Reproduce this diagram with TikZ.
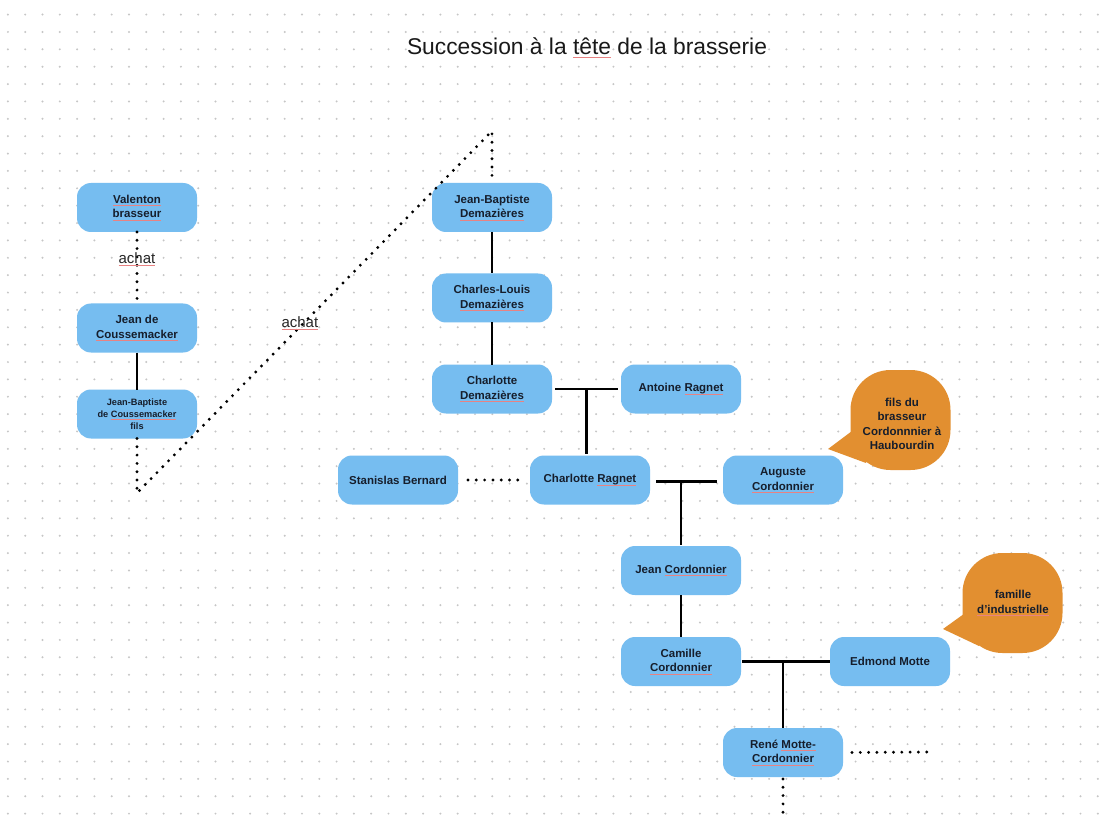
\documentclass[tikz,border=0pt]{standalone}
\usepackage{fontspec}
\setmainfont{Liberation Sans}
\usetikzlibrary{calc}
\definecolor{boxblue}{RGB}{118,189,240}
\definecolor{bubor}{RGB}{226,143,48}
\definecolor{ink}{RGB}{22,30,44}
\definecolor{gridgray}{RGB}{198,198,198}
\definecolor{spellred}{RGB}{232,130,130}
\newcommand\spl[1]{\setbox0\hbox{#1}\rlap{\textcolor{spellred}{\rule[-2.4pt]{\wd0}{0.5pt}}}\box0\relax}
\begin{document}
\begin{tikzpicture}[x=1pt,y=-1pt,
 pbox/.style={fill=boxblue, rounded corners=14pt, minimum width=120pt, minimum height=49pt, inner sep=2pt, outer sep=0pt, align=center, text=ink, font=\bfseries\fontsize{11.5}{14.5}\selectfont},
 smallbox/.style={pbox, font=\bfseries\fontsize{9.2}{12.2}\selectfont},
 link/.style={draw=black, line width=2.9pt},
 dotline/.style={draw=black, line width=3.2pt, line cap=round, dash pattern=on 0pt off 8.3pt},
 lbl/.style={text=black!85, font=\fontsize{15}{18}\selectfont, inner sep=0pt},
 bubble/.style={fill=bubor, rounded corners=40pt, minimum width=100pt, minimum height=100pt, outer sep=0pt, inner sep=0pt},
 btext/.style={align=center, text=ink, inner sep=0pt, font=\bfseries\fontsize{11.5}{14.5}\selectfont}
]
\useasboundingbox[fill=white] (0,0) rectangle (1111,818);
% dot grid
\foreach \i in {0,...,63}{
  \foreach \j in {0,...,46}{
    \fill[gridgray] ({7.9+17.3*\i},{14.6+17.37*\j}) circle (1.1pt);
  }
}
% title
\node[anchor=base, text=black!90, font=\fontsize{22.8}{26}\selectfont, inner sep=0pt] (title) at (587,55) {Succession à la \spl{tête} de la brasserie};

% boxes
\node[pbox] (val) at (137,207.5) {\spl{Valenton}\\\spl{brasseur}};
\node[pbox] (jdc) at (137,328) {Jean de\\\spl{Coussemacker}};
\node[smallbox] (jbf) at (137,414) {Jean-Baptiste\\de \spl{Coussemacker}\\fils};
\node[pbox] (jbd) at (492,207.5) {Jean-Baptiste\\\spl{Demazières}};
\node[pbox] (cld) at (492,298) {Charles-Louis\\\spl{Demazières}};
\node[pbox] (chd) at (492,389) {Charlotte\\\spl{Demazières}};
\node[pbox] (ant) at (681,389) {Antoine \spl{Ragnet}};
\node[pbox] (stb) at (398,480) {Stanislas Bernard};
\node[pbox] (chr) at (590,480) {Charlotte \spl{Ragnet}};
\node[pbox] (aug) at (783,480) {Auguste\\\spl{Cordonnier}};
\node[pbox] (jc) at (681,570.5) {Jean \spl{Cordonnier}};
\node[pbox] (cam) at (681,661.5) {Camille\\\spl{Cordonnier}};
\node[pbox] (edm) at (890,661.5) {Edmond Motte};
\node[pbox] (rmc) at (783,752.5) {René \spl{Motte-}\\\spl{Cordonnier}};

% bubbles
\node[bubble] (b1) at (900.5,420) {};
\coordinate (t1) at (828,449);
\fill[bubor] ($(b1.west)+(5.5,8)$) -- (t1) -- ($(b1.south west)+(15.5,-7)$) -- ($(b1.center)+(-20,10)$) -- cycle;
\node[btext] (b1t) at (902,424) {fils du\\brasseur\\Cordonnnier à\\Haubourdin};
\node[bubble] (b2) at (1012.5,603) {};
\coordinate (t2) at (943,629);
\fill[bubor] ($(b2.west)+(5.5,8)$) -- (t2) -- ($(b2.south west)+(16.5,-7)$) -- ($(b2.center)+(-20,10)$) -- cycle;
\node[btext] (b2t) at (1013,603) {famille\\\spl{d’industrielle}};

% connectors
\draw[dotline] (val) -- node[lbl, pos=0.38] {\spl{achat}} (jdc);
\draw[link] (jdc) -- (jbf);
\coordinate (c1) at (137,493);
\coordinate (c2) at (492,131);
\draw[dotline] (jbf) -- (c1) -- node[lbl, pos=0.47, xshift=-4pt] {\spl{achat}} (c2) -- (jbd);
\draw[link] (jbd) -- (cld);
\draw[link] (cld) -- (chd);
\draw[link] ([xshift=3pt]chd.east) -- coordinate[midway] (m1) ([xshift=-3pt]ant.west);
\draw[link] (m1) -- ([yshift=2pt]m1 |- chr.north);
\draw[dotline] ([xshift=10pt]stb.east) -- ([xshift=-12pt]chr.west);
\draw[link] ([xshift=6pt,yshift=-1.5pt]chr.east) -- coordinate[midway] (m2) ([xshift=-6pt,yshift=-1.5pt]aug.west);
\draw[link] (jc.north |- m2) -- ([yshift=1pt]jc.north);
\draw[link] (jc) -- (cam);
\draw[link] ([xshift=1pt]cam.east) -- coordinate[midway] (m3) ([xshift=-0.5pt]edm.west);
\draw[link] (rmc.north |- m3) -- (rmc.north);
\coordinate (rend) at (928,752);
\draw[dotline] ([xshift=9pt]rmc.east) -- (rend);
\coordinate (rbot) at (783,822);
\draw[dotline] ([yshift=-2pt]rmc.south) -- (rbot);
\end{tikzpicture}
\end{document}
